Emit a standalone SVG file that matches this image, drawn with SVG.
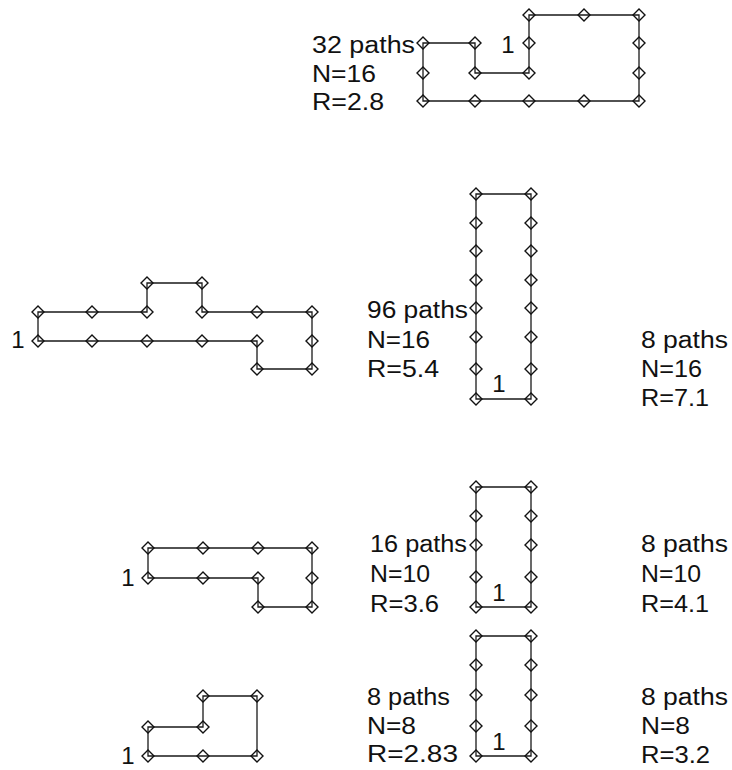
<svg xmlns="http://www.w3.org/2000/svg" xmlns:xlink="http://www.w3.org/1999/xlink" width="732" height="770" viewBox="0 0 732 770">
<style>
.edge{fill:none;stroke:#1a1a1a;stroke-width:1.3;stroke-linejoin:miter}
.dm{fill:none;stroke:#111;stroke-width:1.4}
text{font-family:"Liberation Sans",Arial,Helvetica,sans-serif;font-size:23px;fill:#111}
.one{text-anchor:middle;font-size:24px}
</style>
<defs>
<path id="d" d="M0,-6 L6,0 L0,6 L-6,0 Z" class="dm"/>
</defs>
<rect width="732" height="770" fill="#fff"/>
<g id="connectors">
<polygon class="edge" points="529,43 529,15 584,15 639,15 639,43 639,73 639,101 584,101 529,101 475,101 423,101 423,73 423,43 475,43 475,73 529,73"/>
<polygon class="edge" points="38,341 38,312 92,312 147,312 147,283 202,283 202,312 257,312 312,312 312,341 312,369 257,369 257,341 202,341 147,341 92,341"/>
<polygon class="edge" points="476,194 531,194 531,399 476,399"/>
<polygon class="edge" points="148,578 148,548 203,548 258,548 312,548 312,578 312,607 258,607 258,578 203,578"/>
<polygon class="edge" points="476,487 531,487 531,607 476,607"/>
<polygon class="edge" points="148,756 148,727 203,727 203,696 257,696 257,756 203,756"/>
<polygon class="edge" points="476,636 531,636 531,756 476,756"/>
</g>
<g id="fig-top">
<use xlink:href="#d" x="529" y="15"/><use xlink:href="#d" x="584" y="15"/><use xlink:href="#d" x="639" y="15"/>
<use xlink:href="#d" x="423" y="43"/><use xlink:href="#d" x="475" y="43"/><use xlink:href="#d" x="529" y="43"/><use xlink:href="#d" x="639" y="43"/>
<use xlink:href="#d" x="423" y="73"/><use xlink:href="#d" x="475" y="73"/><use xlink:href="#d" x="529" y="73"/><use xlink:href="#d" x="639" y="73"/>
<use xlink:href="#d" x="423" y="101"/><use xlink:href="#d" x="475" y="101"/><use xlink:href="#d" x="529" y="101"/><use xlink:href="#d" x="584" y="101"/><use xlink:href="#d" x="639" y="101"/>
<text class="one" x="508" y="53">1</text>
<text x="312" y="53" textLength="103" lengthAdjust="spacingAndGlyphs">32 paths</text>
<text x="312" y="82" textLength="64" lengthAdjust="spacingAndGlyphs">N=16</text>
<text x="312" y="110" textLength="72" lengthAdjust="spacingAndGlyphs">R=2.8</text>
</g>
<g id="fig-n16-wide">
<use xlink:href="#d" x="147" y="283"/><use xlink:href="#d" x="202" y="283"/>
<use xlink:href="#d" x="38" y="312"/><use xlink:href="#d" x="92" y="312"/><use xlink:href="#d" x="147" y="312"/><use xlink:href="#d" x="202" y="312"/><use xlink:href="#d" x="257" y="312"/><use xlink:href="#d" x="312" y="312"/>
<use xlink:href="#d" x="38" y="341"/><use xlink:href="#d" x="92" y="341"/><use xlink:href="#d" x="147" y="341"/><use xlink:href="#d" x="202" y="341"/><use xlink:href="#d" x="257" y="341"/><use xlink:href="#d" x="312" y="341"/>
<use xlink:href="#d" x="257" y="369"/><use xlink:href="#d" x="312" y="369"/>
<text class="one" x="18" y="348">1</text>
<text x="367" y="318" textLength="101" lengthAdjust="spacingAndGlyphs">96 paths</text>
<text x="367" y="348" textLength="63" lengthAdjust="spacingAndGlyphs">N=16</text>
<text x="367" y="377" textLength="72" lengthAdjust="spacingAndGlyphs">R=5.4</text>
</g>
<g id="fig-n16-tall">
<use xlink:href="#d" x="476" y="194"/><use xlink:href="#d" x="476" y="223"/><use xlink:href="#d" x="476" y="251"/><use xlink:href="#d" x="476" y="280"/><use xlink:href="#d" x="476" y="308"/><use xlink:href="#d" x="476" y="337"/><use xlink:href="#d" x="476" y="369"/><use xlink:href="#d" x="476" y="399"/>
<use xlink:href="#d" x="531" y="194"/><use xlink:href="#d" x="531" y="223"/><use xlink:href="#d" x="531" y="251"/><use xlink:href="#d" x="531" y="280"/><use xlink:href="#d" x="531" y="308"/><use xlink:href="#d" x="531" y="337"/><use xlink:href="#d" x="531" y="369"/><use xlink:href="#d" x="531" y="399"/>
<text class="one" x="499" y="392">1</text>
<text x="641" y="348" textLength="87" lengthAdjust="spacingAndGlyphs">8 paths</text>
<text x="641" y="377" textLength="61" lengthAdjust="spacingAndGlyphs">N=16</text>
<text x="641" y="406" textLength="68" lengthAdjust="spacingAndGlyphs">R=7.1</text>
</g>
<g id="fig-n10-wide">
<use xlink:href="#d" x="148" y="548"/><use xlink:href="#d" x="203" y="548"/><use xlink:href="#d" x="258" y="548"/><use xlink:href="#d" x="312" y="548"/>
<use xlink:href="#d" x="148" y="578"/><use xlink:href="#d" x="203" y="578"/><use xlink:href="#d" x="258" y="578"/><use xlink:href="#d" x="312" y="578"/>
<use xlink:href="#d" x="258" y="607"/><use xlink:href="#d" x="312" y="607"/>
<text class="one" x="128" y="586">1</text>
<text x="370" y="552" textLength="97" lengthAdjust="spacingAndGlyphs">16 paths</text>
<text x="370" y="582" textLength="60" lengthAdjust="spacingAndGlyphs">N=10</text>
<text x="370" y="612" textLength="69" lengthAdjust="spacingAndGlyphs">R=3.6</text>
</g>
<g id="fig-n10-tall">
<use xlink:href="#d" x="476" y="487"/><use xlink:href="#d" x="476" y="516"/><use xlink:href="#d" x="476" y="545"/><use xlink:href="#d" x="476" y="577"/><use xlink:href="#d" x="476" y="607"/>
<use xlink:href="#d" x="531" y="487"/><use xlink:href="#d" x="531" y="516"/><use xlink:href="#d" x="531" y="545"/><use xlink:href="#d" x="531" y="577"/><use xlink:href="#d" x="531" y="607"/>
<text class="one" x="499" y="601">1</text>
<text x="641" y="552" textLength="87" lengthAdjust="spacingAndGlyphs">8 paths</text>
<text x="641" y="582" textLength="60" lengthAdjust="spacingAndGlyphs">N=10</text>
<text x="641" y="612" textLength="68" lengthAdjust="spacingAndGlyphs">R=4.1</text>
</g>
<g id="fig-n8-wide">
<use xlink:href="#d" x="203" y="696"/><use xlink:href="#d" x="257" y="696"/>
<use xlink:href="#d" x="148" y="727"/><use xlink:href="#d" x="203" y="727"/>
<use xlink:href="#d" x="148" y="756"/><use xlink:href="#d" x="203" y="756"/><use xlink:href="#d" x="257" y="756"/>
<text class="one" x="128" y="764">1</text>
<text x="367" y="705" textLength="83" lengthAdjust="spacingAndGlyphs">8 paths</text>
<text x="367" y="734" textLength="49" lengthAdjust="spacingAndGlyphs">N=8</text>
<text x="367" y="762" textLength="91" lengthAdjust="spacingAndGlyphs">R=2.83</text>
</g>
<g id="fig-n8-tall">
<use xlink:href="#d" x="476" y="636"/><use xlink:href="#d" x="476" y="665"/><use xlink:href="#d" x="476" y="695"/><use xlink:href="#d" x="476" y="726"/><use xlink:href="#d" x="476" y="756"/>
<use xlink:href="#d" x="531" y="636"/><use xlink:href="#d" x="531" y="665"/><use xlink:href="#d" x="531" y="695"/><use xlink:href="#d" x="531" y="726"/><use xlink:href="#d" x="531" y="756"/>
<text class="one" x="499" y="750">1</text>
<text x="641" y="705" textLength="87" lengthAdjust="spacingAndGlyphs">8 paths</text>
<text x="641" y="734" textLength="49" lengthAdjust="spacingAndGlyphs">N=8</text>
<text x="641" y="763" textLength="69" lengthAdjust="spacingAndGlyphs">R=3.2</text>
</g>
</svg>
